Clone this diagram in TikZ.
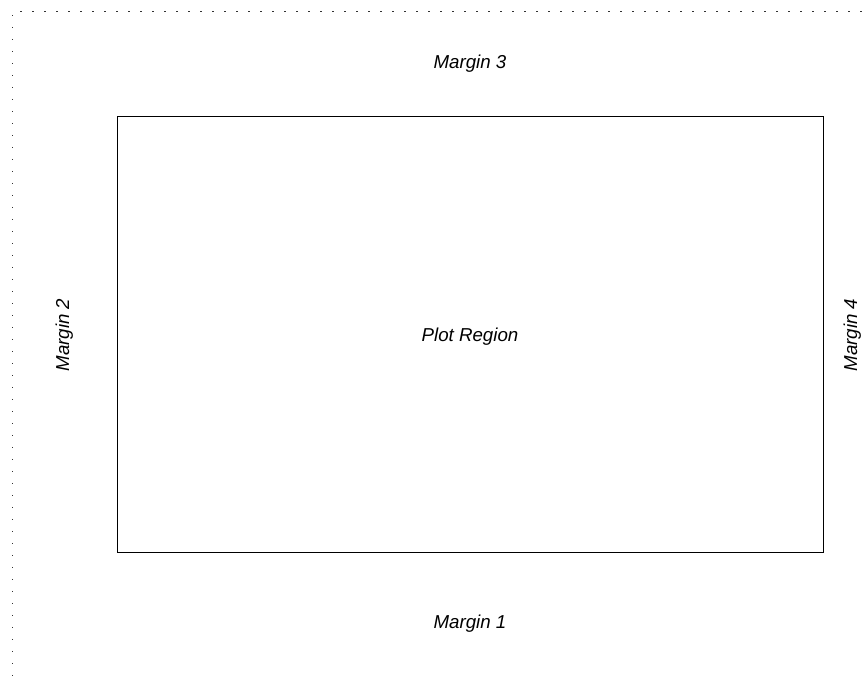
\documentclass[tikz,border=0pt]{standalone}
\usepackage{fontspec}
\setmainfont{Liberation Sans}
\begin{document}
\begin{tikzpicture}[x=1pt,y=1pt,
  lbl/.style={font=\fontsize{18.7}{22}\selectfont\itshape, inner sep=0pt, anchor=base},
  dotline/.style={line width=1.2pt, dash pattern=on 1.5pt off 10.5pt, black!80},
  plotbox/.style={draw, line width=1pt}]
\useasboundingbox (0,0) rectangle (867,682);
% dotted figure border (top and left visible)
\coordinate (tl) at (20,670.3);
\coordinate (tr) at (880,670.3);
\coordinate (lt) at (12.3,667);
\coordinate (lb) at (12.3,-10);
\draw[dotline] (tl) -- (tr);
\draw[dotline] (lt) -- (lb);
% plot region
\node[plotbox, minimum width=706pt, minimum height=436pt, inner sep=0pt] (plot) at (470,347) {};
\node[lbl] (pr) at (470,340) {Plot Region};
\node[lbl] (m3) at (470,613) {Margin 3};
\node[lbl] (m1) at (470,53) {Margin 1};
\node[lbl, rotate=90] (m2) at (69,347) {Margin 2};
\node[lbl, rotate=90] (m4) at (857,347) {Margin 4};
\end{tikzpicture}
\end{document}
